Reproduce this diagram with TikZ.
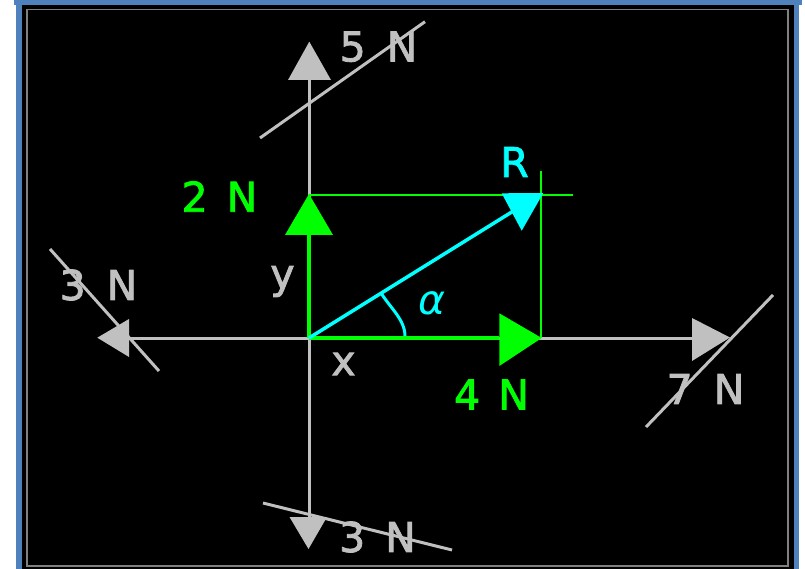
\documentclass[tikz,border=0pt]{standalone}
\usepackage{fontspec}
\newfontfamily\lbl[BoldFont={DejaVu Sans}, BoldFeatures={FakeBold=2}]{DejaVu Sans}
\definecolor{frameblue}{RGB}{79,129,189}
\definecolor{lgray}{RGB}{192,192,192}
\definecolor{dgray}{RGB}{128,128,128}
\definecolor{vgreen}{RGB}{0,255,0}
\definecolor{vcyan}{RGB}{0,255,255}
\tikzset{
  axisline/.style={lgray, line width=3pt},
  slashline/.style={lgray, line width=3pt},
  greyhead/.style={fill=lgray, draw=none},
  greenline/.style={vgreen, line width=2pt},
  greenvec/.style={vgreen, line width=3.5pt},
  greenhead/.style={fill=vgreen, draw=none},
  cyanline/.style={vcyan, line width=3.5pt},
  cyanhead/.style={fill=vcyan, draw=none},
  lab/.style={inner sep=0pt, font=\lbl\bfseries\fontsize{41}{50}\selectfont},
}
\begin{document}
\begin{tikzpicture}[x=1pt, y=-1pt]
\useasboundingbox (0,0) rectangle (805,569);
% frame
\fill[white] (0,0) rectangle (805,569);
\fill[frameblue] (16,0) rectangle (799,569);
\fill[frameblue] (14,0) rectangle (802,5);
\fill[black] (22,5) rectangle (794,569);
\draw[dgray, line width=1.3pt] (27,9.3) rectangle (788,566);

% key points
\coordinate (O) at (309,338);
\coordinate (topBase) at (309,80);
\coordinate (botBase) at (309,517);
\coordinate (leftBase) at (129,338);
\coordinate (rightBase) at (692,338);

% gray axes
\draw[axisline] (topBase) -- (botBase);
\draw[axisline] (leftBase) -- (rightBase);
\fill[greyhead] (309.3,41.7) -- (288,80) -- (331,80) -- cycle;
\fill[greyhead] (308.5,549) -- (289.5,517) -- (327,517) -- cycle;
\fill[greyhead] (97.3,337.7) -- (129,319) -- (129,357) -- cycle;
\fill[greyhead] (730,337.5) -- (692,318) -- (692,361) -- cycle;

% slashes
\coordinate (s5a) at (260,138); \coordinate (s5b) at (425,21.7);
\coordinate (s3la) at (50,249); \coordinate (s3lb) at (159,371);
\coordinate (s7a) at (646,427); \coordinate (s7b) at (773,295);
\coordinate (s3ba) at (263,503); \coordinate (s3bb) at (452,550);
\draw[slashline] (s5a) -- (s5b);
\draw[slashline] (s3la) -- (s3lb);
\draw[slashline] (s7a) -- (s7b);
\draw[slashline] (s3ba) -- (s3bb);

% gray labels
\node[lab, lgray] (l5) at (378.5,46.7) {5\hspace{21pt}N};
\node[lab, lgray] (l3l) at (98.5,285) {3\hspace{21pt}N};
\node[lab, lgray] (l7) at (705.5,389) {7\hspace{21pt}N};
\node[lab, lgray] (l3b) at (377.5,537) {3\hspace{20pt}N};
\node[lab, lgray] (ly) at (282.5,281.5) {y};
\node[lab, lgray] (lx) at (343.5,364) {x};

% green components
\coordinate (Ytip) at (309,194);
\coordinate (Ybase) at (309,235);
\coordinate (Xtip) at (541.7,338);
\coordinate (Xbase) at (499.3,338);
\coordinate (rTopL) at (309,195);
\coordinate (rTopR) at (572.7,195);
\coordinate (rRightT) at (541,170.7);
\coordinate (rRightB) at (541,338);
\draw[greenline] (rTopL) -- (rTopR);
\draw[greenline] (rRightT) -- (rRightB);
\draw[greenvec] (O) -- (Ybase);
\fill[greenhead] (Ytip) -- (285,235) -- (333,235) -- cycle;
\draw[greenvec] (O) -- (Xbase);
\fill[greenhead] (Xtip) -- (499.3,313.3) -- (499.3,366) -- cycle;
\node[lab, vgreen] (l2) at (219.5,196.5) {2\hspace{19pt}N};
\node[lab, vgreen] (l4) at (491.5,394.5) {4\hspace{18pt}N};

% resultant
\coordinate (Rend) at (515,210);
\draw[cyanline] (O) -- (Rend);
\fill[cyanhead] (501.7,193.3) -- (543.3,193) -- (521.7,230.7) -- cycle;
\coordinate (arcA) at (381.7,294);
\coordinate (arcB) at (405,336);
\draw[vcyan, line width=3pt] (arcA) .. controls (390.2,307.6) and (405,320) .. (arcB);
\node[lab, vcyan] (lR) at (514.5,162) {R};
\node[lab, vcyan, font=\lbl\fontsize{41}{50}\selectfont\itshape] (la) at (432.5,303.5) {α};
\end{tikzpicture}
\end{document}
